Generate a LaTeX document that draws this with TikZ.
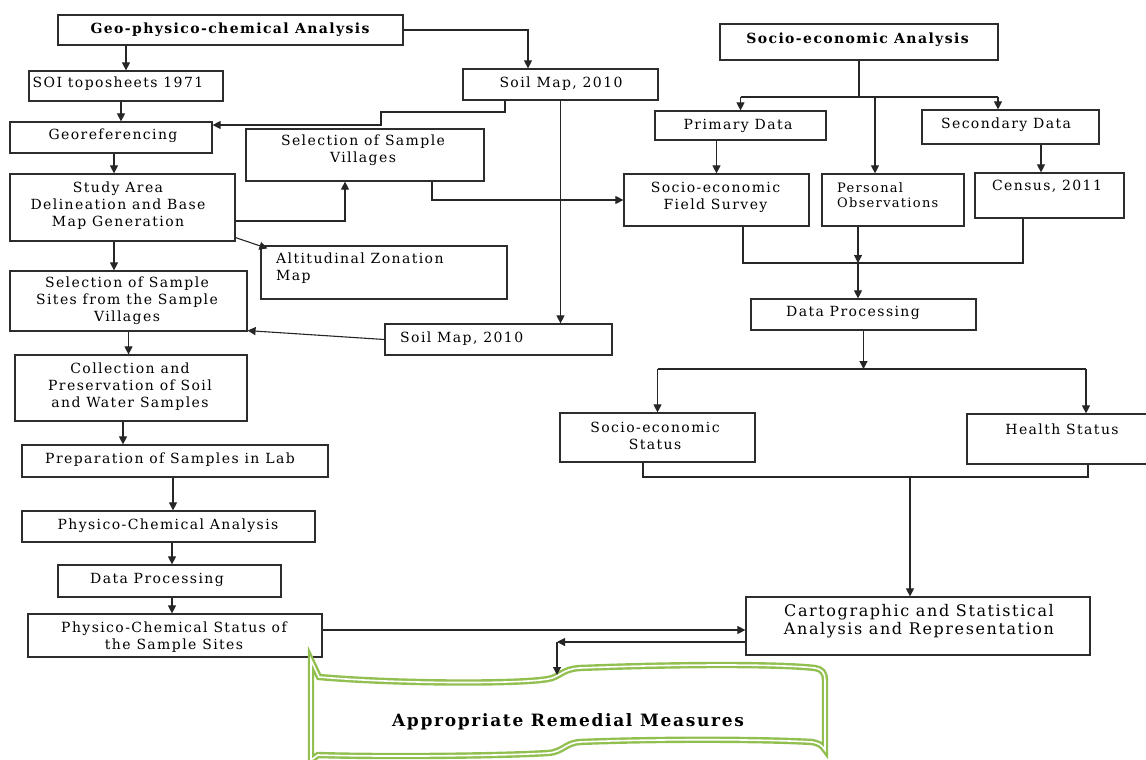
\documentclass[tikz,border=0pt]{standalone}
\usepackage{fontspec}
\setmainfont{DejaVu Serif}[LetterSpace=10]
\usetikzlibrary{arrows.meta}
\definecolor{edge}{RGB}{45,45,45}
\definecolor{ribbon}{RGB}{146,192,80}
\begin{document}
\begin{tikzpicture}[x=1pt,y=-1pt,
  box/.style={draw=edge, line width=1.2pt, inner sep=0pt, fill=white},
  txt/.style={inner sep=0pt, align=center, font=\fontsize{14}{17}\selectfont},
  ltxt/.style={txt, align=left, anchor=west},
  btxt/.style={txt, font=\fontsize{14}{17}\selectfont\bfseries},
  ln/.style={draw=black!85, line width=1.1pt},
  arr/.style={ln, -{Triangle[length=8pt,width=8pt]}},
  ribbonline/.style={draw=ribbon, line width=2.4pt, double=white, double distance=1.6pt, fill=white}]
\useasboundingbox[fill=white] (0,0) rectangle (1146,760);

% ---------- left column boxes ----------
\node[box, minimum width=345pt, minimum height=30pt] (geo)   at (230.5,30)  {};
\node[box, minimum width=194pt, minimum height=30pt] (soi)   at (126,86)    {};
\node[box, minimum width=202pt, minimum height=31pt] (geor)  at (111,137.5) {};
\node[box, minimum width=225pt, minimum height=67pt] (study) at (122.5,207.5) {};
\node[box, minimum width=238pt, minimum height=52pt] (vill)  at (365,155)   {};
\node[box, minimum width=195pt, minimum height=31pt] (soil1) at (560.5,84.5) {};
\node[box, minimum width=246pt, minimum height=53pt] (alt)   at (384,272.5) {};
\node[box, minimum width=227pt, minimum height=31pt] (soil2) at (498.5,339.5) {};
\node[box, minimum width=237pt, minimum height=60pt] (sites) at (128.5,301)  {};
\node[box, minimum width=232pt, minimum height=66pt] (coll)  at (131,388)   {};
\node[box, minimum width=306pt, minimum height=32pt] (prep)  at (175,461)   {};
\node[box, minimum width=293pt, minimum height=31pt] (pca)   at (168.5,526.5) {};
\node[box, minimum width=223pt, minimum height=32pt] (dpl)   at (169.5,581) {};
\node[box, minimum width=294pt, minimum height=43pt] (pcs)   at (175,635.5) {};

% ---------- right column boxes ----------
\node[box, minimum width=278pt, minimum height=36pt] (sea)  at (859,42)     {};
\node[box, minimum width=171pt, minimum height=29pt] (prim) at (740.5,125.5) {};
\node[box, minimum width=177pt, minimum height=34pt] (sec)  at (1010.5,127) {};
\node[box, minimum width=185pt, minimum height=52pt] (fs)   at (716.5,200)  {};
\node[box, minimum width=142pt, minimum height=52pt] (po)   at (893,200)    {};
\node[box, minimum width=149pt, minimum height=45pt] (cen)  at (1049.5,195.5) {};
\node[box, minimum width=225pt, minimum height=31pt] (dpr)  at (863.5,314.5) {};
\node[box, minimum width=195pt, minimum height=49pt] (ses)  at (657.5,437.5) {};
\node[box, minimum width=185pt, minimum height=50pt] (hs)   at (1059.5,439) {};
\node[box, minimum width=344pt, minimum height=58pt] (cart) at (918,626)    {};

% ---------- box texts ----------
\node[btxt] (geo-t)   at (230,30)  {Geo-physico-chemical Analysis};
\node[txt]  (soi-t)   at (118,84)  {SOI toposheets 1971};
\node[txt]  (soil1-t) at (561,84)  {Soil Map, 2010};
\node[txt]  (geor-t)  at (113,136) {Georeferencing};
\node[txt]  (vill-t)  at (363,150) {Selection of Sample\\Villages};
\node[txt]  (study-t) at (118,206) {Study Area\\Delineation and Base\\Map Generation};
\node[ltxt] (alt-t)   at (276,268) {Altitudinal Zonation\\Map};
\node[txt]  (sites-t) at (127,301) {Selection of Sample\\Sites from the Sample\\Villages};
\node[ltxt] (soil2-t) at (400,339) {Soil Map, 2010};
\node[txt]  (coll-t)  at (130,387) {Collection and\\Preservation of Soil\\and Water Samples};
\node[txt]  (prep-t)  at (170,460) {Preparation of Samples in Lab};
\node[txt]  (pca-t)   at (168,526) {Physico-Chemical Analysis};
\node[txt]  (dpl-t)   at (157,580) {Data Processing};
\node[txt]  (pcs-t)   at (174,637) {Physico-Chemical Status of\\the Sample Sites};

\node[btxt] (sea-t)   at (857.5,40) {Socio-economic Analysis};
\node[txt]  (prim-t)  at (738,126) {Primary Data};
\node[txt]  (sec-t)   at (1006,125) {Secondary Data};
\node[txt]  (fs-t)    at (715.5,197) {Socio-economic\\Field Survey};
\node[ltxt, font=\fontsize{13}{15}\selectfont] (po-t) at (837,195) {Personal\\Observations};
\node[txt]  (cen-t)   at (1047,186) {Census, 2011};
\node[txt]  (dpr-t)   at (853,313) {Data Processing};
\node[txt]  (ses-t)   at (655,435.5) {Socio-economic\\Status};
\node[txt]  (hs-t)    at (1062,429) {Health Status};
\node[txt, font=\fontsize{16}{18.5}\selectfont] (cart-t) at (919,621) {Cartographic and Statistical\\Analysis and Representation};

% ---------- remedial ribbon ----------
\path[ribbonline] (311,660) -- (319,677)
  .. controls (400,684) and (520,684) .. (548,679)
  .. controls (560,677) and (562,669) .. (580,668)
  .. controls (680,664) and (780,664) .. (815,668)
  .. controls (822,669) and (825,673) .. (825,680)
  -- (825,750)
  .. controls (822,745) and (818,743) .. (812,742)
  .. controls (760,739) and (650,739) .. (580,742)
  .. controls (565,743) and (563,752) .. (548,753)
  .. controls (500,756) and (380,757) .. (318,755)
  -- (311,760) -- cycle;
\node[txt, font=\fontsize{17}{20}\selectfont\bfseries] (rem) at (568,722) {Appropriate Remedial Measures};
\coordinate (remtop) at (557,675);

% ---------- left column connectors ----------
\draw[arr] (soi.north |- geo.south) -- (soi.north);
\coordinate (q1) at ([xshift=-5]soi.south);
\draw[arr] (q1) -- (q1 |- geor.north);
\coordinate (q2) at ([xshift=3]geor.south);
\draw[arr] (q2) -- (q2 |- study.north);
\coordinate (q3) at ([xshift=-8.5]study.south);
\draw[arr] (q3) -- (q3 |- sites.north);
\draw[arr] (sites.south) -- (sites.south |- coll.north);
\coordinate (q4) at ([xshift=-8]coll.south);
\draw[arr] (q4) -- (q4 |- prep.north);
\coordinate (q5) at ([xshift=-2]prep.south);
\draw[arr] (q5) -- (q5 |- pca.north);
\coordinate (q6) at ([xshift=2.5]dpl.north);
\draw[arr] (q6 |- pca.south) -- (q6);
\coordinate (q7) at ([xshift=2.5]dpl.south);
\draw[arr] (q7) -- (q7 |- pcs.north);

\draw[arr] (geo.east) -| ([xshift=-32.5]soil1.north);
\coordinate (bend1) at (381,112);
\draw[arr] ([xshift=-55.5]soil1.south) |- (bend1) |- ([yshift=12.5]geor.east);
\draw[arr] ([yshift=-13.5]study.east) -| ([xshift=-20]vill.south);
\draw[arr] ([yshift=4]study.south east) -- ([xshift=7,yshift=-3]alt.north west);
\draw[arr] ([xshift=67]vill.south) |- (fs.west);
\draw[arr] (soil1.south) -- (soil1.south |- soil2.north);
\draw[arr] (soil2.west) -- ([yshift=1]sites.south east);

\coordinate (q8) at ([yshift=5.5]pcs.east);
\draw[arr] (q8) -- (q8 -| cart.west);
\coordinate (q9) at ([yshift=-16]cart.west);
\draw[arr] (q9) -- (q9 -| remtop);
\draw[arr] (q9 -| remtop) -- (remtop);

% ---------- right column connectors ----------
\coordinate (sj) at (862,97);
\draw[ln] (sea.south) -- (sea.south |- sj);
\coordinate (q10) at ([xshift=-12.5]sec.north);
\coordinate (q11) at ([xshift=-18]po.north);
\draw[ln] (prim.north |- sj) -- (q10 |- sj);
\draw[arr] (prim.north |- sj) -- (prim.north);
\draw[arr] (q10 |- sj) -- (q10);
\draw[arr] (q11 |- sj) -- (q11);
\draw[arr] (fs.north |- prim.south) -- (fs.north);
\coordinate (q12) at ([xshift=-8.5]cen.north);
\draw[arr] (q12 |- sec.south) -- (q12);

\coordinate (mj) at (858,263);
\coordinate (q13) at ([xshift=26.5]fs.south);
\coordinate (q14) at ([xshift=-26.5]cen.south);
\draw[ln] (q13) -- (q13 |- mj) -- (q14 |- mj) -- (q14);
\coordinate (q15) at ([xshift=-35]po.south);
\draw[arr] (q15) -- (q15 |- mj);
\draw[arr] (q15 |- mj) -- (q15 |- dpr.north);

\coordinate (bj) at (862,369);
\draw[arr] (dpr.south) -- (dpr.south |- bj);
\coordinate (q16) at ([xshift=26.5]hs.north);
\draw[ln] (ses.north |- bj) -- (q16 |- bj);
\draw[arr] (ses.north |- bj) -- (ses.north);
\draw[arr] (q16 |- bj) -- (q16);

\coordinate (cj) at (910,477);
\coordinate (q17) at ([xshift=-14.5]ses.south);
\coordinate (q18) at ([xshift=28.5]hs.south);
\draw[ln] (q17) -- (q17 |- cj) -- (q18 |- cj) -- (q18);
\draw[arr] (cj) -- (cj |- cart.north);
\end{tikzpicture}
\end{document}
